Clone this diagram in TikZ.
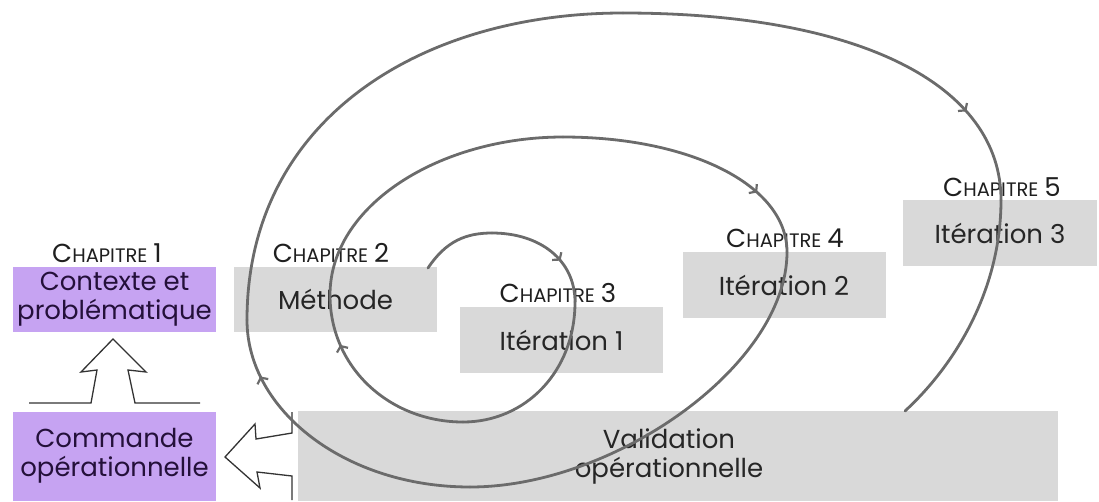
\documentclass[tikz,border=0pt]{standalone}
\usepackage{fontspec}
\setmainfont{Poppins}
\usetikzlibrary{arrows.meta,decorations.markings}
\definecolor{purp}{HTML}{C6A3F2}
\definecolor{purptext}{HTML}{24103A}
\definecolor{boxgray}{HTML}{D9D9D9}
\definecolor{graytext}{HTML}{262626}
\definecolor{spiralgray}{HTML}{6B6B6B}
\newcommand{\chapl}[1]{{\fontsize{26}{26}\selectfont C}{\fontsize{19.5}{19.5}\selectfont HAPITRE}\hspace{6pt}{\fontsize{26}{26}\selectfont #1}}
\tikzset{
  pbox/.style={rectangle, fill=purp, text=purptext, inner sep=0pt, align=center, font=\fontsize{26}{29}\selectfont},
  gbox/.style={rectangle, fill=boxgray, text=graytext, inner sep=0pt, align=center, font=\fontsize{26}{29}\selectfont},
  chaplabel/.style={anchor=base, inner sep=0pt, text=black!88},
  spiral/.style={draw=spiralgray, line width=2.8pt, line cap=round},
  midarrow/.style={postaction={decorate, decoration={markings, mark=at position #1 with {\arrow{Straight Barb[length=4.5pt,width=12pt,line width=2.2pt]}}}}},
  blockarrow/.style={draw=black!80, line width=1.3pt, line join=miter}
}
\begin{document}
\begin{tikzpicture}[x=1pt,y=-1pt]
\useasboundingbox (0,0) rectangle (1099,501);
% boxes
\node[pbox, minimum width=203pt, minimum height=65pt] (ctx) at (114.5,299.5) {Contexte et\\problématique};
\node[pbox, minimum width=203pt, minimum height=89pt] (cmd) at (114.5,456) {Commande\\opérationnelle};
\node[gbox, minimum width=203pt, minimum height=65pt] (meth) at (335.5,299.5) {Méthode};
\node[gbox, minimum width=203pt, minimum height=66pt] (it1) at (561.5,340) {Itération 1};
\node[gbox, minimum width=203pt, minimum height=66pt] (it2) at (784,285) {Itération 2};
\node[gbox, minimum width=194pt, minimum height=66pt] (it3) at (1000,233) {Itération 3};
\node[gbox, minimum width=760pt, minimum height=90pt] (val) at (678,456) {\hspace*{-18pt}Validation\\\hspace*{-18pt}opérationnelle};
% chapter labels
\node[chaplabel] (c1) at (107,262) {\chapl{1}};
\node[chaplabel] (c2) at (331,262) {\chapl{2}};
\node[chaplabel] (c3) at (558,302) {\chapl{3}};
\node[chaplabel] (c4) at (785,247) {\chapl{4}};
\node[chaplabel] (c5) at (1002,196) {\chapl{5}};
% block arrows
\draw[blockarrow] (29,403) -- (91,403) -- (97,370) -- (81,372) -- (113,339) -- (146,372) -- (128,370) -- (135,403) -- (200,403);
\draw[blockarrow] (292,412) -- (292,433) -- (256,439) -- (255,424) -- (225,457) -- (260,488) -- (257,472) -- (292,476) -- (292,500);
% spiral
\coordinate (S0) at (428,268);
\coordinate (T1) at (492,233);
\coordinate (R1) at (575,302);
\coordinate (B1) at (463,422);
\coordinate (L1) at (330,295);
\coordinate (T2) at (563,137);
\coordinate (R2) at (787,252);
\coordinate (B2) at (470,487);
\coordinate (L2) at (247,320);
\coordinate (T3) at (623,13);
\coordinate (R3) at (1001,200);
\coordinate (E) at (905,411);
\draw[spiral] (S0) .. controls (446,241) and (466,233) .. (T1);
\draw[spiral, midarrow=0.63] (T1) .. controls (540,233) and (575,260) .. (R1);
\draw[spiral] (R1) .. controls (575,372) and (525,422) .. (B1);
\draw[spiral, midarrow=0.75] (B1) .. controls (390,422) and (330,368) .. (L1);
\draw[spiral] (L1) .. controls (330,205) and (440,137) .. (T2);
\draw[spiral, midarrow=0.75] (T2) .. controls (690,137) and (787,185) .. (R2);
\draw[spiral] (R2) .. controls (787,365) and (615,487) .. (B2);
\draw[spiral, midarrow=0.81] (B2) .. controls (345,487) and (247,410) .. (L2);
\draw[spiral] (L2) .. controls (247,120) and (420,13) .. (T3);
\draw[spiral, midarrow=0.79] (T3) .. controls (860,13) and (1001,85) .. (R3);
\draw[spiral] (R3) .. controls (1001,290) and (955,365) .. (E);
\end{tikzpicture}
\end{document}
